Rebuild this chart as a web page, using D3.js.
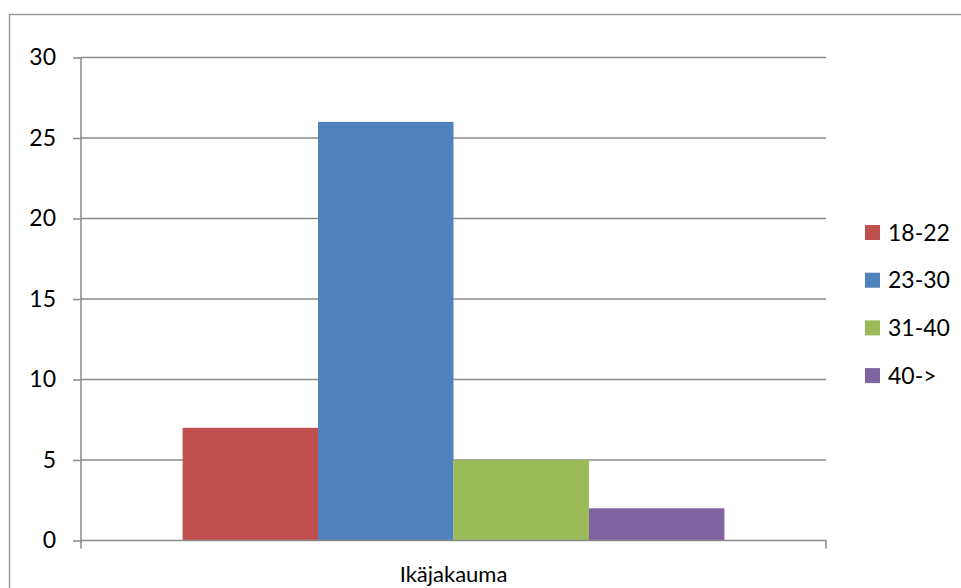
<!DOCTYPE html>
<html>
<head>
<meta charset="utf-8">
<script src="https://cdn.jsdelivr.net/npm/d3@7"></script>
<style>
  html, body { margin: 0; padding: 0; background: #fff; }
  svg { display: block; font-family: Lato, "Open Sans", sans-serif; }
</style>
</head>
<body>
<svg id="chart" width="961" height="588"></svg>
<script>
// Age distribution of respondents
const category = "Ikäjakauma";
const seriesNames = ["18-22", "23-30", "31-40", "40->"];
const seriesValues = [7, 26, 5, 2];
const seriesColors = ["#C0504D", "#4F81BD", "#9BBB59", "#8064A2"];
const yTicks = [0, 5, 10, 15, 20, 25, 30];

const svg = d3.select("#chart");
const plot = { left: 81, right: 826, top: 57.5, bottom: 540.5 };
const gridColor = "#8a8a8a";

// Outer chart frame
svg.append("rect")
  .attr("x", 9.5).attr("y", 14.5)
  .attr("width", 960).attr("height", 600)
  .attr("fill", "none").attr("stroke", "#9a9a9a").attr("stroke-width", 1.5);

const y = d3.scaleLinear().domain([0, 30]).range([plot.bottom, plot.top]);

// One category band; the four bars sit inside it with a gap of 0.75 bar width on each side
const xBand = d3.scaleBand().domain([category]).range([plot.left, plot.right]).paddingInner(0).paddingOuter(0);
const xSeries = d3.scaleBand().domain(seriesNames)
  .range([xBand(category), xBand(category) + xBand.bandwidth()])
  .paddingInner(0).paddingOuter(0.75);

// Horizontal gridlines
svg.append("g")
  .selectAll("line")
  .data(yTicks.filter(t => t > 0))
  .join("line")
  .attr("x1", plot.left).attr("x2", plot.right)
  .attr("y1", d => y(d)).attr("y2", d => y(d))
  .attr("stroke", gridColor).attr("stroke-width", 1.5);

// Bars
svg.append("g")
  .selectAll("rect")
  .data(seriesNames.map((n, i) => ({ name: n, value: seriesValues[i], color: seriesColors[i] })))
  .join("rect")
  .attr("x", d => xSeries(d.name))
  .attr("width", xSeries.bandwidth())
  .attr("y", d => y(d.value))
  .attr("height", d => y(0) - y(d.value))
  .attr("fill", d => d.color);

// Y axis
const yAxis = d3.axisLeft(y).tickValues(yTicks).tickSize(8).tickPadding(17).tickFormat(d3.format("d"));
const gy = svg.append("g").attr("transform", `translate(${plot.left},0)`).call(yAxis);
gy.select(".domain").attr("stroke", gridColor).attr("stroke-width", 1.5)
  .attr("d", `M0,${plot.top}V${plot.bottom}`);
gy.selectAll(".tick line").attr("stroke", gridColor).attr("stroke-width", 1.5);
gy.selectAll(".tick text").attr("fill", "#000").style("font-size", "23px")
  .style("font-family", "Lato, 'Open Sans', sans-serif");

// X axis
const xAxis = d3.axisBottom(xBand).tickSize(0).tickPadding(26);
const gx = svg.append("g").attr("transform", `translate(0,${plot.bottom})`).call(xAxis);
gx.select(".domain").attr("stroke", gridColor).attr("stroke-width", 1.5)
  .attr("d", `M${plot.left},8V0H${plot.right}V8`);
gx.selectAll(".tick text").attr("fill", "#000").style("font-size", "22px")
  .style("font-family", "Lato, 'Open Sans', sans-serif");

// Legend
const legend = svg.append("g").attr("transform", "translate(865,225)");
const rows = legend.selectAll("g")
  .data(seriesNames.map((n, i) => ({ name: n, color: seriesColors[i] })))
  .join("g")
  .attr("transform", (d, i) => `translate(0,${i * 47.7})`);
rows.append("rect").attr("width", 15).attr("height", 15).attr("fill", d => d.color);
rows.append("text").attr("x", 23).attr("y", 7.5).attr("dy", "0.36em")
  .style("font-size", "23px").attr("fill", "#000").text(d => d.name);
</script>
</body>
</html>
